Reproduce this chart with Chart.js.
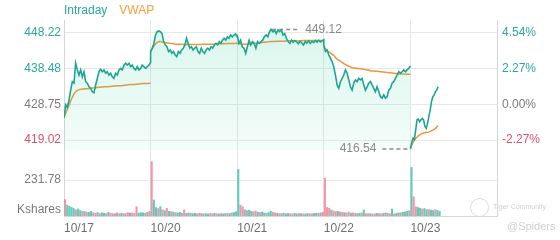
<!DOCTYPE html>
<html>
<head>
<meta charset="utf-8">
<script src="https://cdn.jsdelivr.net/npm/chart.js@4.4.1/dist/chart.umd.min.js"></script>
<style>
	html, body { margin: 0; padding: 0; background: #fff; }
	#contenedor { position: relative; width: 560px; height: 240px; font-family: "Liberation Sans", Arial, sans-serif; }
	#grafico { position: absolute; left: 0; top: 0; }
	#leyenda { position: absolute; left: 64px; top: 3px; font-size: 12px; line-height: 14px; }
	#leyenda .intraday { color: #2aa79a; margin-right: 12px; }
	#leyenda .vwap { color: #f0a041; }
	#marca { position: absolute; left: 470px; top: 198px; width: 90px; height: 40px; color: #cfcfcf; }
	#marca .logo { position: absolute; left: 0; top: 0; width: 17px; height: 17px; border: 1.5px solid #dadada; border-radius: 50%; }
	#marca .texto { position: absolute; left: 23px; top: 5px; font-size: 7px; white-space: nowrap; }
	#marca .usuario { position: absolute; left: 37px; top: 22px; font-size: 11px; white-space: nowrap; }
</style>
</head>
<body>
<div id="contenedor">
	<canvas id="grafico" width="560" height="240"></canvas>
	<div id="leyenda"><span class="intraday">Intraday</span><span class="vwap">VWAP</span></div>
	<div id="marca">
		<div class="logo"></div>
		<div class="texto">Tiger Community</div>
		<div class="usuario">@Spiders</div>
	</div>
</div>
<script>
// Ejes y referencias
const dias = ['10/17', '10/20', '10/21', '10/22', '10/23'];
const cierreAnterior = 428.75;
const ticksPrecio = [448.22, 438.48, 428.75, 419.02];
const ticksPorcentaje = [4.54, 2.27, 0, -2.27];
const tickVolumen = 231.78;
const precioMin = 398.34;
const precioMax = 451.68;
const pisoRelleno = 416.3;
const volumenMax = 1262;
const volumenEtiqueta = 39; // altura donde va "Kshares"
const fraccionHoy = 0.32; // parte de la sesión del 10/23 ya transcurrida
const binsPorDia = 40;

// Precio intradía por día
const precio1017 = [425.1, 428.6, 427.9, 429.9, 432.6, 434.9, 434.5, 439.9, 438.1, 436.7, 438.1, 436.2, 437.6, 434.9, 434.5, 433.5, 433.1, 432.2, 431.9, 434.0, 435.8, 437.6, 438.3, 437.6, 438.1, 437.2, 437.6, 436.7, 437.2, 436.2, 435.8, 437.2, 436.7, 438.1, 438.5, 438.1, 439.4, 439.9, 439.4, 439.9, 439.0, 439.4, 438.5, 438.1, 439.0, 438.1, 438.5, 439.4, 439.0, 438.5, 439.0, 439.4, 440.1];
const precio1020 = [443.1, 444.0, 445.3, 447.6, 448.5, 448.7, 448.5, 448.0, 445.8, 444.9, 444.4, 443.1, 443.5, 442.6, 443.1, 442.2, 441.7, 443.1, 442.6, 443.5, 444.0, 444.9, 446.7, 445.3, 444.0, 444.4, 443.5, 444.0, 444.4, 443.1, 442.6, 444.0, 443.1, 442.6, 443.5, 444.0, 443.5, 444.4, 444.0, 444.9, 445.3, 444.9, 445.8, 445.3, 446.2, 446.7, 446.2, 447.1, 446.7, 447.6, 447.1, 447.6, 447.9, 447.1];
const precio1021 = [447.6, 445.3, 446.2, 444.4, 444.0, 442.6, 444.4, 446.2, 444.9, 445.8, 445.3, 444.0, 445.8, 445.3, 445.8, 446.2, 447.1, 447.6, 447.1, 448.5, 449.12, 448.5, 449.0, 448.0, 449.0, 448.5, 449.0, 447.6, 448.0, 446.7, 445.8, 445.3, 446.2, 445.6, 446.1, 445.7, 445.2, 445.9, 445.5, 444.9, 445.8, 445.4, 446.0, 445.3, 445.9, 445.5, 446.1, 445.6, 446.2, 445.7, 446.0, 446.3];
const precio1022 = [444.9, 443.1, 443.5, 442.2, 441.3, 440.3, 439.0, 436.7, 434.0, 433.1, 434.9, 435.8, 436.7, 438.1, 437.2, 435.4, 433.5, 432.6, 434.5, 435.4, 434.9, 435.8, 435.4, 435.8, 434.0, 432.6, 433.5, 434.5, 434.9, 434.0, 433.1, 432.2, 433.5, 432.2, 430.8, 430.4, 431.3, 430.4, 430.8, 432.6, 433.1, 434.5, 434.9, 435.8, 436.7, 437.6, 437.2, 437.6, 438.1, 437.6, 438.1, 438.5, 439.2];
const precio1023 = [416.54, 418.2, 419.5, 419.1, 421.8, 424.5, 424.7, 424.0, 424.5, 424.9, 424.5, 422.7, 422.2, 423.6, 425.4, 427.2, 429.5, 430.8, 431.3, 432.2, 432.6, 433.5];

// VWAP por día
const vwap1017 = [425.1, 427.4, 429.6, 431.6, 432.5, 432.8, 432.9, 433.0, 433.1, 433.2, 433.3, 433.4, 433.5, 433.5, 433.6, 433.7, 433.8, 433.8, 433.9, 434.0, 434.1, 434.1, 434.2, 434.3, 434.4, 434.4, 434.5];
const vwap1020 = [443.1, 444.6, 445.6, 445.8, 445.6, 445.4, 445.3, 445.2, 445.1, 445.1, 445.0, 445.0, 445.0, 445.0, 445.0, 445.0, 445.1, 445.1, 445.1, 445.1, 445.2, 445.2, 445.2, 445.3, 445.3, 445.3, 445.4];
const vwap1021 = [445.3, 445.2, 445.1, 445.1, 445.2, 445.3, 445.4, 445.5, 445.6, 445.7, 445.8, 445.8, 445.9, 445.9, 445.9, 446.0, 446.0, 446.0, 446.0, 446.0, 446.1, 446.1, 446.1, 446.1, 446.1, 446.1, 446.1];
const vwap1022 = [444.4, 443.4, 442.7, 442.0, 441.0, 440.5, 439.8, 439.3, 438.9, 438.6, 438.5, 438.4, 438.3, 438.1, 437.9, 437.8, 437.7, 437.6, 437.5, 437.4, 437.3, 437.2, 437.1, 437.0, 437.0, 436.9, 436.9];
const vwap1023 = [416.9, 418.8, 419.9, 420.6, 421.0, 421.1, 421.5, 422.0, 422.9];

// Volumen (miles de acciones) y sentido de cada barra: u = sube, d = baja
const vol1017 = [106, 70, 62, 55, 48, 40, 45, 35, 30, 28, 25, 22, 30, 20, 18, 22, 16, 20, 18, 15, 24, 18, 16, 14, 20, 15, 18, 14, 16, 22, 18, 20, 16, 60, 18, 22, 20, 18, 24, 30];
const vol1020 = [350, 103, 55, 48, 60, 40, 35, 50, 30, 28, 25, 22, 20, 24, 18, 39, 16, 20, 18, 15, 17, 14, 18, 16, 14, 15, 13, 16, 14, 18, 15, 13, 16, 14, 15, 18, 16, 20, 22, 28];
const vol1021 = [300, 71, 60, 40, 35, 38, 30, 28, 32, 25, 22, 26, 20, 18, 22, 30, 24, 20, 18, 16, 15, 18, 14, 16, 15, 13, 17, 14, 16, 15, 14, 13, 16, 15, 14, 16, 18, 17, 20, 25];
const vol1022 = [243, 55, 50, 38, 32, 28, 30, 26, 24, 22, 20, 25, 18, 20, 17, 16, 18, 20, 39, 14, 16, 15, 13, 14, 17, 15, 14, 16, 20, 18, 15, 45, 14, 18, 20, 22, 24, 26, 30, 35];
const vol1023 = [313, 124, 60, 55, 50, 45, 48, 40, 42, 38, 35, 40, 36, 30];
const dir1017 = 'duuuuduudu' + 'duudduduud' + 'uddudduudd' + 'uddduuudud';
const dir1020 = 'duudududud' + 'uduudduudu' + 'udduduuddu' + 'duduududuu';
const dir1021 = 'udduduuddu' + 'duuduuddud' + 'uduudduudu' + 'duudduudud';
const dir1022 = 'dddudduddu' + 'ddudduudud' + 'duddudduud' + 'duduuduuud';
const dir1023 = 'udduuduudu' + 'uduu';

const verde = '#1ba694';
const verdeTexto = '#2aa79a';
const rojoTexto = '#d9506b';
const gris = '#7a7a7a';
const naranja = '#f0963a';
const verdeVol = 'rgba(64, 196, 176, 0.85)';
const rosaVol = 'rgba(238, 130, 152, 0.85)';

Chart.defaults.font.family = '"Liberation Sans", Arial, sans-serif';
Chart.defaults.font.size = 12;

// Convierte los valores de un día en puntos x (día + fracción de sesión)
function puntosDia(valores, dia, fraccion) {
	return valores.map((v, i) => ({ x: dia + (i / (valores.length - 1)) * fraccion, y: v }));
}

const serieIntraday = [precio1017, precio1020, precio1021, precio1022].flatMap((vals, d) => puntosDia(vals, d, 1));
const serieHoy = puntosDia(precio1023, 4, fraccionHoy);

const serieVwap = [];
[vwap1017, vwap1020, vwap1021, vwap1022, vwap1023].forEach((vals, d) => {
	if (d > 0) serieVwap.push({ x: d, y: null });
	serieVwap.push(...puntosDia(vals, d, d === 4 ? fraccionHoy : 1));
});

const dirDias = [dir1017, dir1020, dir1021, dir1022, dir1023];
const serieVol = [];
const coloresVol = [];
[vol1017, vol1020, vol1021, vol1022, vol1023].forEach((vals, d) => {
	vals.forEach((v, i) => {
		serieVol.push({ x: d + (i + 0.5) / binsPorDia, y: v });
		coloresVol.push(dirDias[d][i] === 'd' ? rosaVol : verdeVol);
	});
});

const pctMin = (precioMin / cierreAnterior - 1) * 100;
const pctMax = (precioMax / cierreAnterior - 1) * 100;

// El panel de volumen comparte el alto del área: valor de volumen -> altura en el eje de precio
const volEnPrecio = (v) => precioMin + (v / volumenMax) * (precioMax - precioMin);
const posTickVol = volEnPrecio(tickVolumen);
const posKshares = volEnPrecio(volumenEtiqueta);

function colorCambio(delta) {
	if (Math.abs(delta) < 1e-6) return gris;
	return delta > 0 ? verdeTexto : rojoTexto;
}

// Tamaño fijo de cada eje, sin el relleno extra de las etiquetas de los extremos
function fijarTamano(ancho, alto) {
	return (s) => {
		if (ancho !== null) s.width = ancho;
		if (alto !== null) s.height = alto;
		s.paddingLeft = 0;
		s.paddingRight = 0;
		s.paddingTop = 0;
		s.paddingBottom = 0;
	};
}

// Marcas de máximo y mínimo con línea punteada
const marcasExtremos = {
	id: 'marcasExtremos',
	afterDatasetsDraw(chart) {
		const { ctx, scales } = chart;
		const todos = serieIntraday.concat(serieHoy);
		let max = todos[0];
		let min = todos[0];
		todos.forEach((p) => {
			if (p.y > max.y) max = p;
			if (p.y < min.y) min = p;
		});
		ctx.save();
		ctx.strokeStyle = '#8f8f8f';
		ctx.lineWidth = 1.5;
		ctx.setLineDash([4, 3]);
		ctx.fillStyle = '#8a8a8a';
		ctx.font = '12px "Liberation Sans", Arial, sans-serif';
		ctx.textBaseline = 'middle';

		const mx = scales.x.getPixelForValue(max.x);
		const my = scales.y.getPixelForValue(max.y);
		ctx.beginPath();
		ctx.moveTo(mx + 1, my);
		ctx.lineTo(mx + 27, my);
		ctx.stroke();
		ctx.textAlign = 'left';
		ctx.fillText(max.y.toFixed(2), mx + 34, my);

		const nx = scales.x.getPixelForValue(min.x);
		const ny = scales.y.getPixelForValue(min.y);
		ctx.beginPath();
		ctx.moveTo(nx - 28, ny);
		ctx.lineTo(nx - 1, ny);
		ctx.stroke();
		ctx.textAlign = 'right';
		ctx.fillText(min.y.toFixed(2), nx - 34, ny);
		ctx.restore();
	},
};

const ctx = document.getElementById('grafico').getContext('2d');

new Chart(ctx, {
	data: {
		datasets: [
			{
				type: 'line',
				label: 'Intraday',
				data: serieIntraday,
				borderColor: verde,
				borderWidth: 1.6,
				pointRadius: 0,
				tension: 0,
				yAxisID: 'y',
				order: 0,
				fill: { value: pisoRelleno },
				backgroundColor: (c) => {
					const area = c.chart.chartArea;
					if (!area) return 'rgba(0,0,0,0)';
					const yb = c.chart.scales.y.getPixelForValue(pisoRelleno);
					const g = c.chart.ctx.createLinearGradient(0, area.top, 0, yb);
					g.addColorStop(0, 'rgba(40, 205, 150, 0.18)');
					g.addColorStop(1, 'rgba(40, 205, 150, 0.05)');
					return g;
				},
			},
			{
				type: 'line',
				label: 'Intraday hoy',
				data: serieHoy,
				borderColor: verde,
				borderWidth: 1.6,
				pointRadius: 0,
				tension: 0,
				yAxisID: 'y',
				order: 0,
				fill: false,
			},
			{
				type: 'line',
				label: 'VWAP',
				data: serieVwap,
				borderColor: naranja,
				borderWidth: 1.5,
				pointRadius: 0,
				tension: 0.2,
				spanGaps: false,
				yAxisID: 'y',
				order: 1,
				fill: false,
			},
			{
				type: 'bar',
				label: 'Volumen',
				data: serieVol,
				backgroundColor: coloresVol,
				barThickness: 1.4,
				yAxisID: 'yv',
				order: 2,
			},
		],
	},
	options: {
		responsive: false,
		animation: false,
		layout: { padding: { top: 20, left: 0, right: 0, bottom: 0 } },
		plugins: {
			legend: { display: false },
			tooltip: { enabled: false },
		},
		scales: {
			x: {
				type: 'linear',
				min: 0,
				max: 5,
				offset: false,
				afterBuildTicks: (s) => {
					s.ticks = [0, 1, 2, 3, 4, 5].map((v) => ({ value: v }));
				},
				afterFit: fijarTamano(null, 24),
				grid: { color: '#e6e6e6', drawTicks: false, offset: false },
				border: { display: true, color: '#d6d6d6' },
				ticks: {
					align: 'start',
					padding: 5,
					color: '#6e6e6e',
					maxRotation: 0,
					autoSkip: false,
					callback: (v) => dias[v] || '',
				},
			},
			y: {
				position: 'left',
				min: precioMin,
				max: precioMax,
				afterBuildTicks: (s) => {
					s.ticks = ticksPrecio.concat([posTickVol, posKshares]).map((v) => ({ value: v }));
				},
				afterFit: fijarTamano(64, null),
				grid: {
					drawTicks: false,
					color: (c) => (c.tick && c.tick.value === posKshares ? 'rgba(0,0,0,0)' : '#e8e8e8'),
				},
				border: { display: true, color: '#d6d6d6' },
				ticks: {
					padding: 3,
					autoSkip: false,
					color: (c) => (c.tick.value < pisoRelleno ? gris : colorCambio(c.tick.value - cierreAnterior)),
					callback: (v) => {
						if (v === posTickVol) return tickVolumen.toFixed(2);
						if (v === posKshares) return 'Kshares';
						return v.toFixed(2);
					},
				},
			},
			yv: {
				display: false,
				min: 0,
				max: volumenMax,
			},
			yp: {
				position: 'right',
				min: pctMin,
				max: pctMax,
				afterBuildTicks: (s) => {
					s.ticks = ticksPorcentaje.map((v) => ({ value: v }));
				},
				afterFit: fijarTamano(63, null),
				grid: { drawOnChartArea: false, drawTicks: false },
				border: { display: true, color: '#d6d6d6' },
				ticks: {
					padding: 5,
					color: (c) => colorCambio(c.tick.value),
					callback: (v) => v.toFixed(2) + '%',
				},
			},
		},
	},
	plugins: [marcasExtremos],
});
</script>
</body>
</html>
